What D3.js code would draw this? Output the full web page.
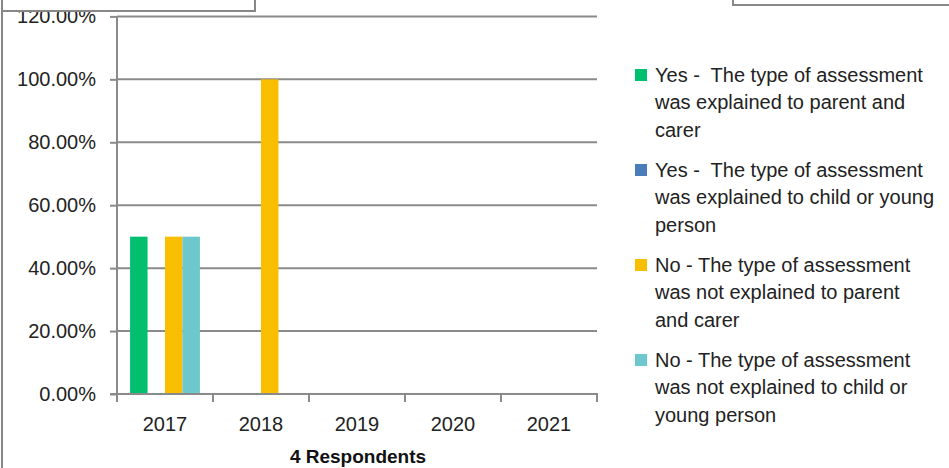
<!DOCTYPE html>
<html>
<head>
<meta charset="utf-8">
<script src="https://cdn.jsdelivr.net/npm/d3@7/dist/d3.min.js"></script>
<style>
  html, body { margin: 0; padding: 0; background: #fff; }
  svg { display: block; font-family: "Liberation Sans", Arial, sans-serif; }
  .lg text { white-space: pre; }
</style>
</head>
<body>
<svg id="chart" width="949" height="468"></svg>
<script>
// Survey years on the category axis
const years = ["2017", "2018", "2019", "2020", "2021"];

// Share of respondents (%) per answer, one value per year
const yesParent = [50, 0, 0, 0, 0];
const yesChild  = [0, 0, 0, 0, 0];
const noParent  = [50, 100, 0, 0, 0];
const noChild   = [50, 0, 0, 0, 0];

// Answer keys, legend text (as wrapped in the legend) and colours
const seriesKeys = ["yesParent", "yesChild", "noParent", "noChild"];
const seriesLabels = [
  ["Yes -  The type of assessment", "was explained to parent and", "carer"],
  ["Yes -  The type of assessment", "was explained to child or young", "person"],
  ["No - The type of assessment", "was not explained to parent", "and carer"],
  ["No - The type of assessment", "was not explained to child or", "young person"]
];
const seriesColors = ["#00BF6F", "#4A7EBB", "#F9BE00", "#6CC8CC"];
const seriesValues = [yesParent, yesChild, noParent, noChild];

// Y axis ticks
const yTicks = [0, 20, 40, 60, 80, 100, 120];
const xTitle = "4 Respondents";

const svg = d3.select("#chart");
const gridColor = "#8a8a8a";

const plot = { left: 117, right: 597, top: 16.4, bottom: 394 };

const x = d3.scaleBand().domain(years).range([plot.left, plot.right]).padding(0);
const xs = d3.scaleBand().domain(seriesKeys).range([0, x.bandwidth()])
  .paddingInner(0).paddingOuter(0.75);
const y = d3.scaleLinear().domain([0, 120]).range([plot.bottom, plot.top]);

// Horizontal gridlines
svg.append("g")
  .selectAll("line")
  .data(yTicks)
  .join("line")
  .attr("x1", plot.left).attr("x2", plot.right)
  .attr("y1", d => y(d)).attr("y2", d => y(d))
  .attr("stroke", gridColor).attr("stroke-width", 2);

// Bars
const groups = svg.append("g")
  .selectAll("g")
  .data(years)
  .join("g")
  .attr("transform", d => `translate(${x(d)},0)`);

groups.selectAll("rect")
  .data((yr, i) => seriesKeys.map((k, s) => ({ key: k, value: seriesValues[s][i], color: seriesColors[s] })))
  .join("rect")
  .attr("x", d => xs(d.key))
  .attr("width", xs.bandwidth())
  .attr("y", d => y(d.value))
  .attr("height", d => y(0) - y(d.value))
  .attr("fill", d => d.color);

// Y axis
const yAxis = svg.append("g")
  .attr("transform", `translate(${plot.left},0)`)
  .call(d3.axisLeft(y).tickValues(yTicks).tickFormat(d => d.toFixed(2) + "%")
    .tickSize(7).tickPadding(14));
yAxis.select(".domain").attr("stroke", gridColor).attr("stroke-width", 2)
  .attr("d", `M0,${plot.top}V${plot.bottom}`);
yAxis.selectAll(".tick line").attr("stroke", gridColor).attr("stroke-width", 2);
yAxis.selectAll(".tick text").attr("font-size", 20).attr("fill", "#222")
  .attr("font-family", "Liberation Sans, Arial, sans-serif");

// X axis: line, boundary ticks and centred year labels
const xAxis = svg.append("g");
xAxis.append("line")
  .attr("x1", plot.left - 7).attr("x2", plot.right + 1)
  .attr("y1", y(0)).attr("y2", y(0))
  .attr("stroke", gridColor).attr("stroke-width", 2);
const bounds = years.map(d => x(d)).concat([x(years[years.length - 1]) + x.bandwidth()]);
xAxis.selectAll("line.tk")
  .data(bounds)
  .join("line")
  .attr("class", "tk")
  .attr("x1", d => d).attr("x2", d => d)
  .attr("y1", y(0)).attr("y2", y(0) + 8)
  .attr("stroke", gridColor).attr("stroke-width", 2);
xAxis.selectAll("text")
  .data(years)
  .join("text")
  .attr("x", d => x(d) + x.bandwidth() / 2)
  .attr("y", 431)
  .attr("text-anchor", "middle")
  .attr("font-size", 20)
  .attr("fill", "#222")
  .text(d => d);

// Axis title
svg.append("text")
  .attr("x", (plot.left + plot.right) / 2 + 1)
  .attr("y", 463)
  .attr("text-anchor", "middle")
  .attr("font-size", 19)
  .attr("font-weight", "bold")
  .attr("fill", "#111")
  .text(xTitle);

// Legend
const legend = svg.append("g").attr("class", "lg");
const lgItems = legend.selectAll("g")
  .data(seriesKeys)
  .join("g")
  .attr("transform", (d, i) => `translate(635,${82 + i * 95})`);
lgItems.append("rect")
  .attr("x", 0).attr("y", -13).attr("width", 12).attr("height", 12)
  .attr("fill", (d, i) => seriesColors[i]);
lgItems.append("text")
  .attr("font-size", 20)
  .attr("fill", "#222")
  .selectAll("tspan")
  .data((d, i) => seriesLabels[i])
  .join("tspan")
  .attr("x", 20)
  .attr("y", (d, j) => j * 27.3)
  .text(d => d);

// Surrounding frame pieces
svg.append("line")
  .attr("x1", 2).attr("x2", 2).attr("y1", 11).attr("y2", 468)
  .attr("stroke", "#878787").attr("stroke-width", 2);
svg.append("rect")
  .attr("x", 2).attr("y", -20).attr("width", 253).attr("height", 31)
  .attr("fill", "#fff").attr("stroke", "#878787").attr("stroke-width", 2);
svg.append("rect")
  .attr("x", 733).attr("y", -20).attr("width", 240).attr("height", 25)
  .attr("fill", "#fff").attr("stroke", "#878787").attr("stroke-width", 2);
</script>
</body>
</html>
